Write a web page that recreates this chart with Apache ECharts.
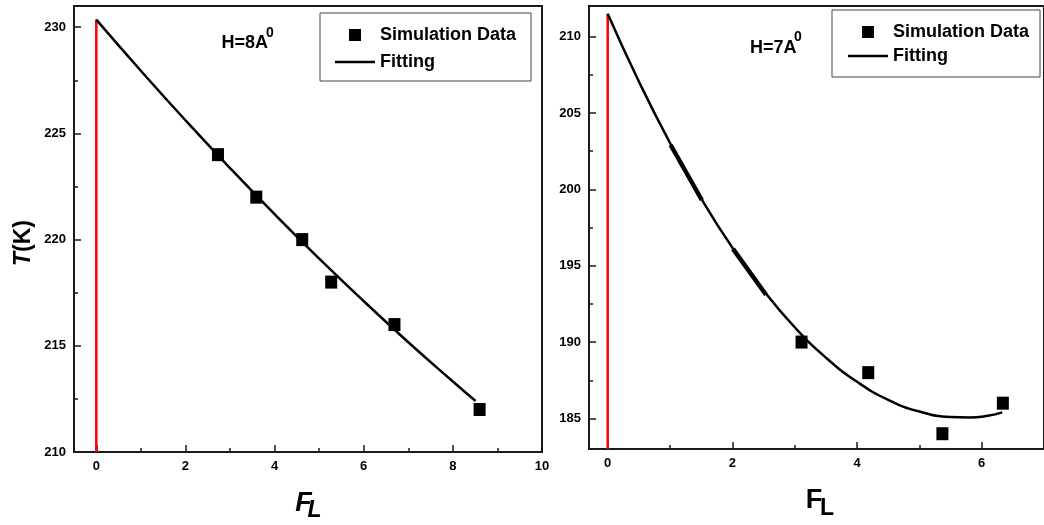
<!DOCTYPE html>
<html>
<head>
<meta charset="utf-8">
<script src="https://cdn.jsdelivr.net/npm/echarts@6/dist/echarts.min.js"></script>
<style>
html,body{margin:0;padding:0;background:#fff;}
#chart{width:1044px;height:525px;}
</style>
</head>
<body>
<div id="chart"></div>
<script>
// ---- Left panel (H=8A0) ----
const leftSimX = [2.73, 3.59, 4.62, 5.27, 6.69, 8.60];
const leftSimY = [224, 222, 220, 218, 216, 212];
const leftFitX = [0, 1, 2, 3, 4, 5, 6, 7, 8, 8.51];
const leftFitY = [230.36, 227.95, 225.62, 223.37, 221.20, 219.11, 217.10, 215.17, 213.32, 212.40];
const leftXTicks = [0, 2, 4, 6, 8, 10];
const leftXMinor = [1, 3, 5, 7, 9];
const leftYTicks = [210, 215, 220, 225, 230];
const leftYMinor = [212.5, 217.5, 222.5, 227.5];
const leftZeroY = [210, 230.36];

// ---- Right panel (H=7A0) ----
const rightSimX = [3.11, 4.18, 5.37, 6.34];
const rightSimY = [190, 188, 184, 186];
const rightFitX = [0, 0.5, 1, 1.5, 2, 2.5, 3, 3.5, 4, 4.5, 5, 5.5, 5.8, 6.1, 6.33];
const rightFitY = [211.5, 207.06, 203.03, 199.40, 196.18, 193.38, 190.97, 188.98, 187.40, 186.22, 185.45, 185.09, 185.06, 185.18, 185.40];
const rightMarkA = [[1.01, 202.9], [1.51, 199.3]];
const rightMarkB = [[2.01, 196.1], [2.54, 193.1]];
const rightXTicks = [0, 2, 4, 6];
const rightXMinor = [1, 3, 5];
const rightYTicks = [185, 190, 195, 200, 205, 210];
const rightYMinor = [187.5, 192.5, 197.5, 202.5, 207.5];
const rightZeroY = [183, 211.5];

const legendNames = ['Simulation Data', 'Fitting'];

const zip = (xs, ys) => xs.map((x, i) => [x, ys[i]]);
const SANS = "'Liberation Sans',Arial,sans-serif";
const INK = '#1a1a1a';
const SQUARE = 'path://M0,0L10,0L10,10L0,10Z';
const LINEICON = 'path://M0,0L40,0L40,2.6L0,2.6Z';

function majorAxis(gridIndex, min, max, ticks, pos) {
  return {
    type: 'value', gridIndex, min, max, position: pos,
    axisLine: { show: true, onZero: false, lineStyle: { color: INK, width: 2 } },
    axisTick: { show: true, inside: true, length: 7, customValues: ticks, lineStyle: { color: INK, width: 1.5 } },
    axisLabel: { show: true, customValues: ticks, margin: 8, color: '#000', fontSize: 13, fontWeight: 'bold', fontFamily: SANS },
    splitLine: { show: false }
  };
}
function minorAxis(gridIndex, min, max, ticks, pos) {
  return {
    type: 'value', gridIndex, min, max, position: pos,
    axisLine: { show: false, onZero: false },
    axisTick: { show: true, inside: true, length: 4, customValues: ticks, lineStyle: { color: INK, width: 1.5 } },
    axisLabel: { show: false },
    splitLine: { show: false }
  };
}
function legendBox(left, top, padding, itemGap) {
  return {
    orient: 'vertical', left, top, padding, itemGap,
    itemWidth: 40, itemHeight: 12, selectedMode: false,
    borderColor: '#444', borderWidth: 1,
    data: [{ name: legendNames[0], icon: SQUARE, itemStyle: { color: '#000', opacity: 1 } },
           { name: legendNames[1], icon: LINEICON, itemStyle: { color: '#000', opacity: 1 } }],
    textStyle: { fontSize: 18, fontWeight: 'bold', fontFamily: SANS, color: '#000', lineHeight: 20 }
  };
}

const chart = echarts.init(document.getElementById('chart'), null, { renderer: 'canvas' });
chart.setOption({
  animation: false,
  backgroundColor: '#fff',
  grid: [
    { left: 74, top: 6, width: 468, height: 446, show: true, borderColor: INK, borderWidth: 2, backgroundColor: 'transparent' },
    { left: 589, top: 6, width: 462, height: 443, show: true, borderColor: INK, borderWidth: 2, backgroundColor: 'transparent' }
  ],
  xAxis: [
    majorAxis(0, -0.5, 10, leftXTicks, 'bottom'),
    minorAxis(0, -0.5, 10, leftXMinor, 'bottom'),
    majorAxis(1, -0.3, 7, rightXTicks, 'bottom'),
    minorAxis(1, -0.3, 7, rightXMinor, 'bottom')
  ],
  yAxis: [
    majorAxis(0, 210, 231, leftYTicks, 'left'),
    minorAxis(0, 210, 231, leftYMinor, 'left'),
    majorAxis(1, 183, 212, rightYTicks, 'left'),
    minorAxis(1, 183, 212, rightYMinor, 'left')
  ],
  legend: [
    legendBox(320, 13, [12, 15, 9, 15], 7),
    legendBox(832, 10, [12, 11, 11, 16], 4)
  ],
  series: [
    { name: 'zero-left', type: 'line', xAxisIndex: 0, yAxisIndex: 0, symbol: 'none', z: 1,
      data: [[0, leftZeroY[0]], [0, leftZeroY[1]]], lineStyle: { color: '#ff0000', width: 2.5 } },
    { name: legendNames[1], type: 'line', xAxisIndex: 0, yAxisIndex: 0, symbol: 'none', showSymbol: false, smooth: true, z: 2,
      data: zip(leftFitX, leftFitY), lineStyle: { color: '#000', width: 2.5 }, itemStyle: { color: '#000' } },
    { name: legendNames[0], type: 'scatter', xAxisIndex: 0, yAxisIndex: 0, symbol: 'rect', symbolSize: [12, 13], z: 3,
      data: zip(leftSimX, leftSimY), itemStyle: { color: '#000', opacity: 1 } },

    { name: 'zero-right', type: 'line', xAxisIndex: 2, yAxisIndex: 2, symbol: 'none', z: 1,
      data: [[0, rightZeroY[0]], [0, rightZeroY[1]]], lineStyle: { color: '#ff0000', width: 2.5 } },
    { name: legendNames[1], type: 'line', xAxisIndex: 2, yAxisIndex: 2, symbol: 'none', showSymbol: false, smooth: true, z: 2,
      data: zip(rightFitX, rightFitY), lineStyle: { color: '#000', width: 2.5 }, itemStyle: { color: '#000' } },
    { name: 'mark-a', type: 'line', xAxisIndex: 2, yAxisIndex: 2, symbol: 'none', z: 2,
      data: rightMarkA, lineStyle: { color: '#000', width: 4.5 } },
    { name: 'mark-b', type: 'line', xAxisIndex: 2, yAxisIndex: 2, symbol: 'none', z: 2,
      data: rightMarkB, lineStyle: { color: '#000', width: 4.5 } },
    { name: legendNames[0], type: 'scatter', xAxisIndex: 2, yAxisIndex: 2, symbol: 'rect', symbolSize: [12, 13], z: 3,
      data: zip(rightSimX, rightSimY), itemStyle: { color: '#000', opacity: 1 } }
  ],
  graphic: [
    { type: 'text', x: 221.5, y: 43.5, style: { text: 'H=8A', font: "bold 18px " + SANS, fill: '#000', verticalAlign: 'middle' } },
    { type: 'text', x: 266, y: 33, style: { text: '0', font: "bold 14px " + SANS, fill: '#000', verticalAlign: 'middle' } },
    { type: 'text', x: 750, y: 48.5, style: { text: 'H=7A', font: "bold 18px " + SANS, fill: '#000', verticalAlign: 'middle' } },
    { type: 'text', x: 794, y: 37, style: { text: '0', font: "bold 14px " + SANS, fill: '#000', verticalAlign: 'middle' } },
    { type: 'text', x: 24, y: 243, rotation: Math.PI / 2,
      style: { text: '{i|T}{n|(K)}', align: 'center', verticalAlign: 'middle',
        rich: { i: { fontSize: 23, fontWeight: 'bold', fontStyle: 'italic', fontFamily: SANS, fill: '#000' },
                n: { fontSize: 23, fontWeight: 'bold', fontFamily: SANS, fill: '#000' } } } },
    { type: 'text', x: 303.5, y: 503.5, style: { text: 'F', font: "italic bold 27px " + SANS, fill: '#000', align: 'center', verticalAlign: 'middle' } },
    { type: 'text', x: 314.5, y: 511, style: { text: 'L', font: "italic bold 23px " + SANS, fill: '#000', align: 'center', verticalAlign: 'middle' } },
    { type: 'text', x: 814, y: 500.5, style: { text: 'F', font: "bold 27px " + SANS, fill: '#000', align: 'center', verticalAlign: 'middle' } },
    { type: 'text', x: 827, y: 509, style: { text: 'L', font: "bold 23px " + SANS, fill: '#000', align: 'center', verticalAlign: 'middle' } }
  ]
});
</script>
</body>
</html>
